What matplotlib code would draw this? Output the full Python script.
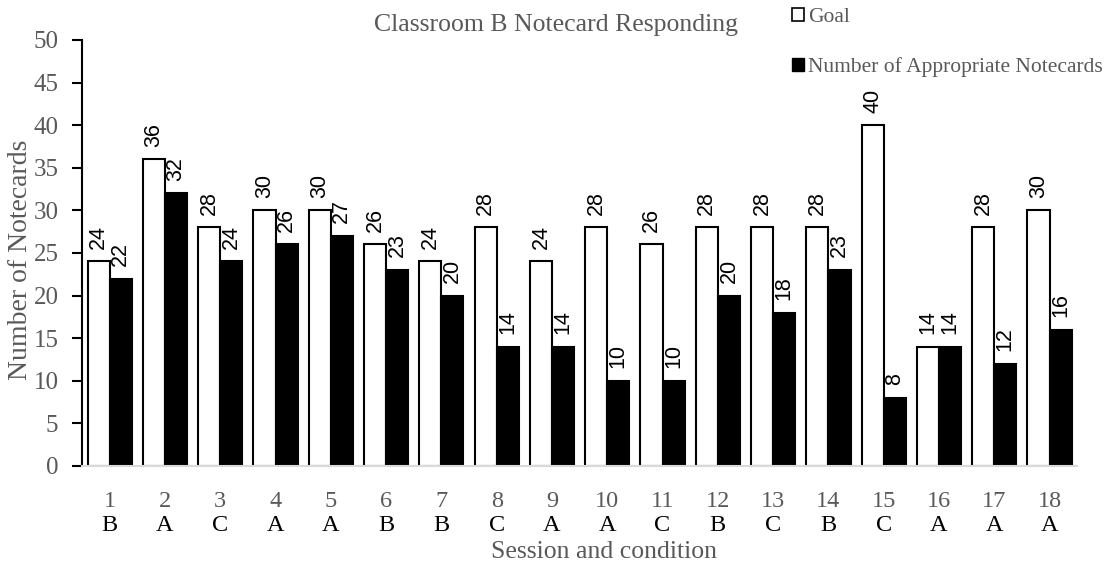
import matplotlib.pyplot as plt
import numpy as np
from matplotlib.patches import Patch

# Session data
sessions = [str(i) for i in range(1, 19)]
conditions = ["B", "A", "C", "A", "A", "B", "B", "C", "A", "A", "C", "B", "C", "B", "C", "A", "A", "A"]
goal = [24, 36, 28, 30, 30, 26, 24, 28, 24, 28, 26, 28, 28, 28, 40, 14, 28, 30]
appropriate = [22, 32, 24, 26, 27, 23, 20, 14, 14, 10, 10, 20, 18, 23, 8, 14, 12, 16]

grey = "#595959"
serif = "Liberation Serif"

fig = plt.figure(figsize=(11.17, 5.71), dpi=100)
ax = fig.add_axes([0.0734, 0.184, 0.891, 0.746])

x = np.arange(len(sessions))
w = 0.4
b1 = ax.bar(x - w / 2, goal, w, color="white", edgecolor="black", linewidth=1.5, label="Goal")
b2 = ax.bar(x + w / 2, appropriate, w, color="black", edgecolor="black", linewidth=1.5,
            label="Number of Appropriate Notecards")

# value labels above each bar, rotated
for bars in (b1, b2):
    for rect in bars:
        h = rect.get_height()
        ax.annotate(f"{h:g}", (rect.get_x() + rect.get_width() / 2, h),
                    xytext=(0, 9), textcoords="offset points", rotation=90,
                    ha="center", va="bottom", fontsize=15.5, family="Liberation Sans")

ax.set_xlim(-0.5, 17.5)
ax.set_ylim(0, 50)
ax.set_yticks(range(0, 51, 5))
ax.tick_params(axis="y", labelsize=18, labelcolor=grey, length=7, width=1.5,
               color="black", pad=10)
for lbl in ax.get_yticklabels():
    lbl.set_family(serif)

ax.set_xticks(x)
ax.set_xticklabels([])
ax.tick_params(axis="x", length=0)
for xi, s, c in zip(x, sessions, conditions):
    ax.text(xi, -4.2, s, ha="center", va="center", fontsize=17.5, color=grey, family=serif)
    ax.text(xi, -7.0, c, ha="center", va="center", fontsize=17.5, color="black", family=serif)

ax.spines["top"].set_visible(False)
ax.spines["right"].set_visible(False)
ax.spines["left"].set_linewidth(1.5)
ax.spines["bottom"].set_color("#d9d9d9")
ax.spines["bottom"].set_linewidth(1.5)

ax.set_ylabel("Number of Notecards", fontsize=20, color=grey, family=serif)
ax.yaxis.set_label_coords(-0.049, 0.484)
fig.text(0.541, 0.033, "Session and condition", ha="center", va="center",
         fontsize=18.5, color=grey, family=serif)
fig.text(0.498, 0.956, "Classroom B Notecard Responding", ha="center", va="center",
         fontsize=18.5, color=grey, family=serif)

handles = [Patch(facecolor="white", edgecolor="black", linewidth=1.2),
           Patch(facecolor="black", edgecolor="black")]
leg = fig.legend(handles, ["Goal", "Number of Appropriate Notecards"], loc="upper left",
                 bbox_to_anchor=(0.692, 1.02), frameon=False, handlelength=0.55,
                 handleheight=0.55, handletextpad=0.2, labelspacing=1.4,
                 prop={"family": serif, "size": 15.5})
for t in leg.get_texts():
    t.set_color(grey)

fig.savefig("out.png", dpi=100)
